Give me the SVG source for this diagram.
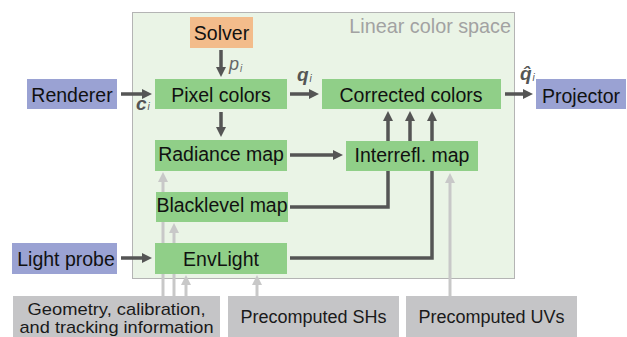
<svg xmlns="http://www.w3.org/2000/svg" width="627" height="337" viewBox="0 0 627 337">
<style>
.t{font-family:"Liberation Sans",Arial,sans-serif;font-size:19.5px;fill:#111;text-anchor:middle}
.b{font-family:"Liberation Sans",Arial,sans-serif;font-size:18px;fill:#1a1a1a;text-anchor:middle}
.g{fill:#90cf88}
.bl{fill:#9aa2d3}
.gr{fill:#c5c5c7}
.dk{stroke:#555;stroke-width:3.5;fill:none}
.lt{stroke:#c8c8c8;stroke-width:3;fill:none}
.lb{font-family:"Liberation Sans",Arial,sans-serif;font-style:italic;fill:#555}
</style>
<defs>
<marker id="ad" viewBox="0 0 10 10" refX="1" refY="5" markerWidth="10" markerHeight="10" markerUnits="userSpaceOnUse" orient="auto"><path d="M0,0L10,5L0,10z" fill="#555"/></marker>
<marker id="al" viewBox="0 0 10 10" refX="1" refY="5" markerWidth="10" markerHeight="10" markerUnits="userSpaceOnUse" orient="auto"><path d="M0,0L10,5L0,10z" fill="#c8c8c8"/></marker>
</defs>
<rect x="0" y="0" width="627" height="337" fill="#fff"/>
<g id="container">
<rect x="132.5" y="12.5" width="382" height="266" fill="#eaf4e6" stroke="#b4b4b4" stroke-width="1"/>
<text x="511" y="33" style="font-family:'Liberation Sans',Arial,sans-serif;font-size:19.8px;fill:#a2a2a2;text-anchor:end">Linear color space</text>
</g>
<g id="connectors">
<line class="dk" x1="121" y1="94" x2="143" y2="94" marker-end="url(#ad)"/>
<line class="dk" x1="221" y1="50" x2="221" y2="68" marker-end="url(#ad)"/>
<line class="dk" x1="290" y1="94" x2="310" y2="94" marker-end="url(#ad)"/>
<line class="dk" x1="505" y1="94" x2="524" y2="94" marker-end="url(#ad)"/>
<line class="dk" x1="221" y1="112" x2="221" y2="128" marker-end="url(#ad)"/>
<line class="dk" x1="290" y1="155" x2="334" y2="155" marker-end="url(#ad)"/>
<polyline class="dk" points="290,207 388,207 388,120" marker-end="url(#ad)"/>
<line class="dk" x1="410" y1="141" x2="410" y2="120" marker-end="url(#ad)"/>
<polyline class="dk" points="290,258 432,258 432,120" marker-end="url(#ad)"/>
<line class="dk" x1="121" y1="258" x2="143" y2="258" marker-end="url(#ad)"/>
<line class="lt" x1="163" y1="296" x2="163" y2="181" marker-end="url(#al)"/>
<line class="lt" x1="174" y1="296" x2="174" y2="232" marker-end="url(#al)"/>
<line class="lt" x1="186" y1="296" x2="186" y2="284" marker-end="url(#al)"/>
<line class="lt" x1="257" y1="296" x2="257" y2="284" marker-end="url(#al)"/>
<line class="lt" x1="450" y1="296" x2="450" y2="182" marker-end="url(#al)"/>
</g>
<g id="labels">
<text class="lb" x="136" y="110" style="font-size:19px;font-weight:bold">c<tspan font-size="10" dx="1" font-weight="normal">i</tspan></text>
<text class="lb" x="229" y="70" style="font-size:18px;fill:#666">p<tspan font-size="10" dx="1" dy="2">i</tspan></text>
<text class="lb" x="297" y="81" style="font-size:19px;font-weight:bold">q<tspan font-size="10" dx="1" dy="1" font-weight="normal">i</tspan></text>
<text class="lb" x="520" y="80" style="font-size:19px;font-weight:bold">q̂<tspan font-size="10" dx="1" dy="1" font-weight="normal">i</tspan></text>
</g>
<g id="solver"><rect x="190" y="17" width="63" height="31" fill="#f3bc8b"/><text class="t" x="221.5" y="40">Solver</text></g>
<g id="renderer"><rect x="27" y="79" width="90" height="30" class="bl"/><text class="t" x="72" y="102">Renderer</text></g>
<g id="pixel-colors"><rect x="155" y="79" width="132" height="30" class="g"/><text class="t" x="221" y="101.5">Pixel colors</text></g>
<g id="corrected-colors"><rect x="322" y="79" width="179" height="30" class="g"/><text class="t" x="411" y="102">Corrected colors</text></g>
<g id="projector"><rect x="536" y="79" width="90" height="30" class="bl"/><text class="t" x="581" y="102.5">Projector</text></g>
<g id="radiance-map"><rect x="155" y="140" width="132" height="31" class="g"/><text class="t" x="221" y="161">Radiance map</text></g>
<g id="interrefl-map"><rect x="346" y="141" width="132" height="30" class="g"/><text class="t" x="412" y="161.5">Interrefl. map</text></g>
<g id="blacklevel-map"><rect x="156" y="192" width="132" height="30" class="g"/><text class="t" x="222" y="212">Blacklevel map</text></g>
<g id="envlight"><rect x="155" y="243" width="132" height="31" class="g"/><text class="t" x="221" y="266">EnvLight</text></g>
<g id="light-probe"><rect x="12" y="243" width="105" height="31" class="bl"/><text class="t" x="66" y="266">Light probe</text></g>
<g id="geometry"><rect x="13" y="296" width="207" height="45" class="gr"/><text class="b" x="116.5" y="314.5" style="font-size:17px" textLength="178" lengthAdjust="spacingAndGlyphs">Geometry, calibration,</text><text class="b" x="116.5" y="332.5" style="font-size:17px" textLength="194" lengthAdjust="spacingAndGlyphs">and tracking information</text></g>
<g id="precomputed-shs"><rect x="228" y="296" width="171" height="45" class="gr"/><text class="b" x="313.5" y="323">Precomputed SHs</text></g>
<g id="precomputed-uvs"><rect x="406" y="296" width="171" height="45" class="gr"/><text class="b" x="491.5" y="323">Precomputed UVs</text></g>
</svg>
